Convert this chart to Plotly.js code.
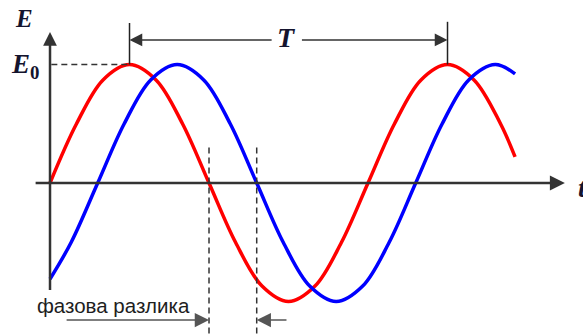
<!DOCTYPE html>
<html>
<head>
<meta charset="utf-8">
<script src="https://cdn.plot.ly/plotly-3.0.1.min.js"></script>
<style>
  html, body { margin: 0; padding: 0; background: #fff; }
  #chart { width: 583px; height: 336px; }
</style>
</head>
<body>
<div id="chart"></div>
<script>
// Time axis in units of 1/12 of a period (one step = 30 degrees).
// Red wave: E = E0 at its peaks, starts at zero.
const redT = [0, 1, 2, 3, 4, 5, 6, 7, 8, 9, 10, 11, 12, 13, 14, 15, 16, 17, 17.55];
const redE = [0, 0.5, 0.87, 1, 0.87, 0.5, 0, -0.5, -0.87, -1, -0.87, -0.5, 0, 0.5, 0.87, 1, 0.87, 0.5, 0.22];

// Blue wave: same amplitude and period, lagging the red one.
const blueT = [0, 0.8, 1.8, 2.8, 3.8, 4.8, 5.8, 6.8, 7.8, 8.8, 9.8, 10.8, 11.8, 12.8, 13.8, 14.8, 15.8, 16.8, 17.55];
const blueE = [-0.81, -0.5, 0, 0.5, 0.87, 1, 0.87, 0.5, 0, -0.5, -0.87, -1, -0.87, -0.5, 0, 0.5, 0.87, 1, 0.92];

// Key instants: red peaks bounding one period, and the two zero crossings.
const periodStart = 3;
const periodEnd = 15;
const redZero = 6;
const blueZero = 7.8;
const peakE = 1;

// Text
const axisNameE = '<b><i>E</i></b>';
const peakLabel = '<b><i>E</i></b><sub><b>0</b></sub>';
const periodLabel = '<b><i>T</i></b>';
const axisNameT = '<b><i>t</i></b>';
const phaseLabel = 'фазова разлика';

const ink = '#333333';
const serif = 'Liberation Serif, Times New Roman, serif';
const labelColor = '#14142e';

const traces = [
  { x: redT, y: redE, mode: 'lines', line: { color: '#ff0000', width: 3.5, shape: 'spline', smoothing: 1 }, hoverinfo: 'skip' },
  { x: blueT, y: blueE, mode: 'lines', line: { color: '#0000ff', width: 3.5, shape: 'spline', smoothing: 1 }, hoverinfo: 'skip' }
];

function arrow(x, y, ax, ay, width, size, color) {
  return {
    x: x, y: y, ax: ax, ay: ay, xref: 'x', yref: 'y', axref: 'x', ayref: 'y',
    text: ' ', showarrow: true, arrowhead: 2, arrowsize: size, arrowwidth: width,
    arrowcolor: color, standoff: 0, startstandoff: 0, font: { size: 1 }
  };
}

function label(text, x, y, size, anchor, font, color) {
  return {
    x: x, y: y, xref: 'x', yref: 'y', text: text, showarrow: false,
    xanchor: anchor, yanchor: 'middle',
    font: { family: font || serif, size: size, color: color || labelColor }
  };
}

const tArrowY = 1.207;
const phaseY = -1.156;
const sans = 'Liberation Sans, Arial, sans-serif';

const annotations = [
  // coordinate axes
  arrow(19.43, 0, -0.6, 0, 2.5, 1.2, ink),
  arrow(0, 1.274, 0, -0.92, 2.5, 1.1, ink),
  // period bracket
  arrow(periodStart, tArrowY, 8.42, tArrowY, 1.5, 1.7, ink),
  arrow(periodEnd, tArrowY, 9.45, tArrowY, 1.5, 1.7, ink),
  // phase difference arrows
  arrow(redZero, phaseY, 0.57, phaseY, 1.5, 1.9, '#555555'),
  arrow(blueZero, phaseY, 8.98, phaseY, 1.5, 1.9, '#555555'),
  // labels
  label(axisNameE, -0.98, 1.39, 25, 'center'),
  label(peakLabel, -0.96, 0.99, 27, 'center'),
  label(periodLabel, 8.94, 1.23, 28, 'center'),
  label(axisNameT, 19.84, -0.04, 28, 'left'),
  label(phaseLabel, -0.55, -1.03, 20.5, 'left', sans, '#1e1e1e')
];

const shapes = [
  // E0 level guide
  { type: 'line', xref: 'x', yref: 'y', x0: 0.05, x1: periodStart, y0: peakE, y1: peakE,
    line: { color: ink, width: 1.5, dash: '6px,4px' } },
  // period bracket ends
  { type: 'line', xref: 'x', yref: 'y', x0: periodStart, x1: periodStart, y0: peakE, y1: 1.35,
    line: { color: '#222', width: 1.5 } },
  { type: 'line', xref: 'x', yref: 'y', x0: periodEnd, x1: periodEnd, y0: peakE, y1: 1.36,
    line: { color: '#222', width: 1.5 } },
  // zero-crossing markers
  { type: 'line', xref: 'x', yref: 'y', x0: redZero, x1: redZero, y0: 0.3, y1: -1.35,
    line: { color: ink, width: 1.5, dash: '6px,4px' } },
  { type: 'line', xref: 'x', yref: 'y', x0: blueZero, x1: blueZero, y0: 0.3, y1: -1.35,
    line: { color: ink, width: 1.5, dash: '6px,4px' } }
];

const layout = {
  width: 583, height: 336,
  margin: { l: 0, r: 0, t: 0, b: 0 },
  paper_bgcolor: '#ffffff', plot_bgcolor: '#ffffff',
  showlegend: false,
  xaxis: { visible: false, range: [-1.887, 20.113], fixedrange: true },
  yaxis: { visible: false, range: [-1.291, 1.544], fixedrange: true },
  shapes: shapes,
  annotations: annotations
};

Plotly.newPlot('chart', traces, layout, { displayModeBar: false, staticPlot: true });
</script>
</body>
</html>
